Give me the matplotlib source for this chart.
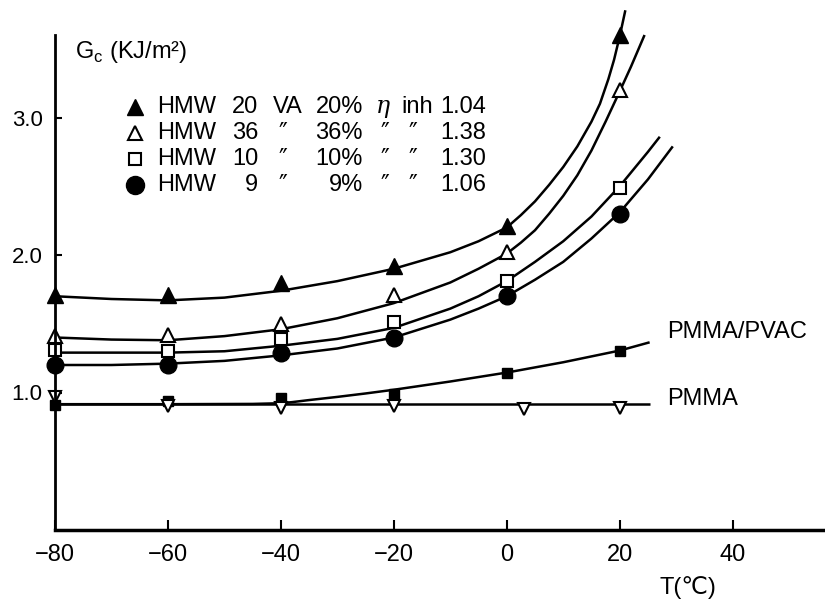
import numpy as np
import matplotlib
matplotlib.use("Agg")
import matplotlib.pyplot as plt

plt.rcParams['font.family'] = ['Liberation Sans', 'DejaVu Sans']
plt.rcParams['mathtext.fontset'] = 'custom'
plt.rcParams['mathtext.rm'] = 'Liberation Sans'

# measured points
T_pts = [-80, -60, -40, -20, 0, 20]
hmw20 = [1.71, 1.71, 1.80, 1.92, 2.21, 3.60]
hmw36 = [1.41, 1.42, 1.50, 1.71, 2.02, 3.20]
hmw10 = [1.31, 1.30, 1.39, 1.51, 1.81, 2.49]
hmw9 = [1.20, 1.20, 1.29, 1.40, 1.70, 2.30]
T_pvac = [-80, -60, -40, -20, 0, 20]
pvac = [0.91, 0.94, 0.96, 0.99, 1.145, 1.30]
T_pmma = [-80, -60, -40, -20, 3, 20]
pmma = [0.97, 0.905, 0.89, 0.90, 0.88, 0.89]

# hand drawn curves
T_c20 = [-80, -70, -60, -50, -40, -30, -20, -10, -5, 0, 2.5, 5, 7.5, 10, 12.5, 15, 16.5, 18, 19, 20, 21]
c20 = [1.70, 1.68, 1.67, 1.69, 1.74, 1.81, 1.90, 2.02, 2.10, 2.20, 2.29, 2.39, 2.51, 2.64, 2.79, 2.97, 3.10, 3.28, 3.42, 3.59, 3.78]
T_c36 = [-80, -70, -60, -50, -40, -30, -20, -10, -5, 0, 2.5, 5, 7.5, 10, 12.5, 15, 17.5, 20, 22, 24.4]
c36 = [1.40, 1.385, 1.38, 1.41, 1.46, 1.54, 1.65, 1.80, 1.90, 2.01, 2.09, 2.18, 2.30, 2.43, 2.58, 2.76, 2.97, 3.19, 3.37, 3.60]
T_c10 = [-80, -70, -60, -50, -40, -30, -20, -10, -5, 0, 5, 10, 15, 20, 25, 27.1]
c10 = [1.29, 1.29, 1.29, 1.30, 1.34, 1.39, 1.47, 1.61, 1.70, 1.81, 1.95, 2.10, 2.28, 2.50, 2.75, 2.86]
T_c9 = [-80, -70, -60, -50, -40, -30, -20, -10, -5, 0, 5, 10, 15, 20, 25, 29.4]
c9 = [1.20, 1.20, 1.21, 1.23, 1.27, 1.32, 1.40, 1.53, 1.61, 1.70, 1.82, 1.95, 2.12, 2.31, 2.55, 2.79]
T_cpvac = [-80, -60, -45, -40, -38, -35, -30, -25, -20, -10, 0, 10, 20, 25.3]
cpvac = [0.915, 0.915, 0.917, 0.922, 0.93, 0.945, 0.968, 0.993, 1.02, 1.08, 1.145, 1.22, 1.305, 1.365]
T_cpmma = [-80, 25.3]
cpmma = [0.917, 0.917]

W, H = 825, 603
fig = plt.figure(figsize=(W / 100, H / 100), dpi=100)
ax = fig.add_axes([55 / W, (H - 530) / H, 768 / W, 3.8 * 137.5 / H])
ax.set_xlim(-80, 56)
ax.set_ylim(0, 3.8)

lw = 1.8
for tx, cy in [(T_c20, c20), (T_c36, c36), (T_c10, c10), (T_c9, c9),
               (T_cpvac, cpvac), (T_cpmma, cpmma)]:
    ax.plot(tx, cy, color='black', lw=lw, clip_on=False, solid_capstyle='butt',
            solid_joinstyle='round')

ax.plot(T_pts, hmw20, '^', ms=11, color='black', clip_on=False)
ax.plot(T_pts, hmw36, '^', ms=10, mfc='white', mec='black', mew=1.5, clip_on=False)
ax.plot(T_pts, hmw10, 's', ms=8, mfc='white', mec='black', mew=1.5, clip_on=False)
ax.plot(T_pts, hmw9, 'o', ms=12, color='black', clip_on=False)
ax.plot(T_pvac, pvac, 's', ms=7, color='black', clip_on=False)
ax.plot(T_pmma, pmma, 'v', ms=9, mfc='white', mec='black', mew=1.5, clip_on=False)

for s in ['top', 'right']:
    ax.spines[s].set_visible(False)
ax.spines['left'].set_bounds(0, 3.6)
ax.spines['left'].set_linewidth(2)
ax.spines['bottom'].set_linewidth(2.5)

ax.set_yticks([1.0, 2.0, 3.0])
ax.set_yticklabels(['1.0', '2.0', '3.0'])
ax.set_xticks([-80, -60, -40, -20, 0, 20, 40])
ax.set_xticklabels(['−80', '−60', '−40', '−20', '0', '20', '40'],
                   family=['Liberation Sans Narrow', 'Liberation Sans'])
ax.tick_params(axis='y', direction='in', length=5, width=1.5, labelsize=16, pad=9)
ax.tick_params(axis='x', direction='in', length=7, width=1.5, labelsize=17, pad=10)


def fxy(x, y):
    return x / W, 1 - y / H


tr = fig.transFigure
fig.text(*fxy(75, 52), r'G$_{\rm c}$ (KJ/m²)', fontsize=17, va='center', ha='left')
fig.text(*fxy(688, 588), 'T(℃)', fontsize=17, va='center', ha='center',
         family=['Liberation Sans Narrow', 'Liberation Sans', 'DejaVu Sans'])
fig.text(*fxy(667, 332), 'PMMA/PVAC', fontsize=17, va='center', ha='left')
fig.text(*fxy(667, 399), 'PMMA', fontsize=17, va='center', ha='left')

# legend block
rows_y = [107, 133, 159, 185]
nums = ['20', '36', '10', '9']
pcts = ['20%', '36%', '10%', '9%']
etas = ['1.04', '1.38', '1.30', '1.06']
mk = [dict(marker='^', ms=11, color='black'),
      dict(marker='^', ms=10, mfc='white', mec='black', mew=1.5),
      dict(marker='s', ms=8, mfc='white', mec='black', mew=1.5),
      dict(marker='o', ms=13, color='black')]
ditto = '″'
for i, yy in enumerate(rows_y):
    ax.plot([fxy(135, yy)[0]], [fxy(135, yy)[1]], transform=tr, clip_on=False,
            ls='none', **mk[i])
    fs = 17
    fig.text(*fxy(157, yy), 'HMW', fontsize=fs, va='center', ha='left')
    fig.text(*fxy(258, yy), nums[i], fontsize=fs, va='center', ha='right')
    if i == 0:
        fig.text(*fxy(273, yy), 'VA', fontsize=fs, va='center', ha='left')
        fig.text(*fxy(376, yy), 'η', fontsize=fs, va='center', ha='left',
                 family=['DejaVu Serif'], style='italic')
        fig.text(*fxy(401, yy), 'inh', fontsize=fs, va='center', ha='left')
    else:
        fig.text(*fxy(283, yy), ditto, fontsize=fs, va='center', ha='center',
                 family=['DejaVu Sans'])
        fig.text(*fxy(385, yy), ditto, fontsize=fs, va='center', ha='center',
                 family=['DejaVu Sans'])
        fig.text(*fxy(413, yy), ditto, fontsize=fs, va='center', ha='center',
                 family=['DejaVu Sans'])
    fig.text(*fxy(363, yy), pcts[i], fontsize=fs, va='center', ha='right')
    fig.text(*fxy(440, yy), etas[i], fontsize=fs, va='center', ha='left')

fig.savefig('out.png', dpi=100)
